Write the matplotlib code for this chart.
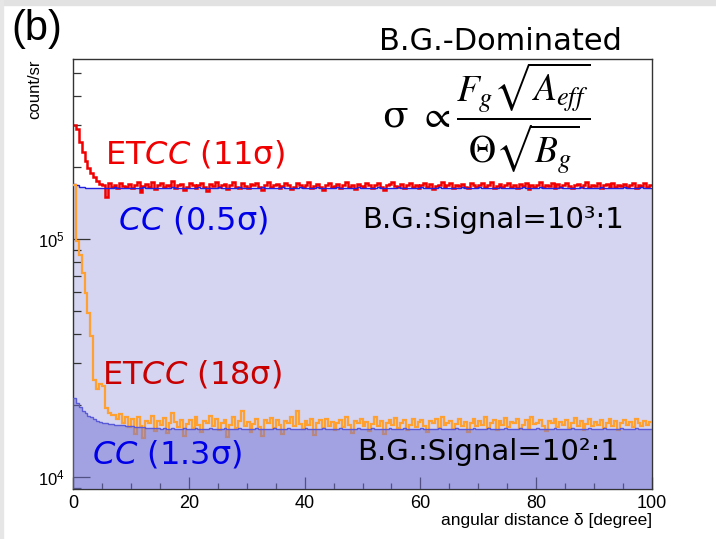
import numpy as np
import matplotlib.pyplot as plt
from matplotlib.ticker import MultipleLocator, LogLocator, NullFormatter
from matplotlib.patches import Rectangle

# bin edges: 0.5 degree bins from 0 to 100
edges = np.arange(0, 100.5, 0.5)

# counts per sr, in units of 1e3
# ETCC, B.G.:Signal = 10^3:1
etcc_hi = [300, 290, 255, 232, 212, 198, 190, 182, 175, 170,
           168, 150, 171, 166, 169, 163, 172, 167, 165, 170,
           164, 169, 173, 158, 167, 170, 166, 174, 162, 168,
           171, 165, 169, 167, 175, 163, 168, 170, 160, 166,
           172, 169, 164, 168, 171, 166, 159, 170, 167, 173,
           165, 168, 170, 162, 169, 174, 166, 164, 171, 167,
           163, 170, 168, 172, 165, 161, 169, 173, 166, 168,
           170, 164, 167, 171, 169, 162, 166, 172, 168, 165,
           169, 173, 164, 167, 170, 166, 160, 168, 171, 165,
           167, 170, 163, 169, 174, 166, 168, 162, 170, 167,
           165, 171, 168, 164, 169, 172, 166, 161, 168, 170,
           173, 167, 165, 170, 163, 168, 171, 166, 169, 164,
           168, 172, 166, 170, 162, 167, 169, 173, 165, 168,
           171, 164, 169, 167, 170, 166, 163, 172, 168, 165,
           169, 171, 166, 168, 174, 163, 167, 170, 165, 169,
           172, 166, 168, 164, 170, 167, 171, 162, 169, 166,
           168, 173, 165, 169, 167, 171, 164, 170, 166, 168,
           172, 167, 163, 169, 170, 166, 168, 173, 165, 169,
           167, 171, 164, 168, 170, 166, 172, 165, 169, 167,
           170, 166, 168, 171, 164, 169, 167, 172, 166, 168]

# CC, B.G.:Signal = 10^3:1
cc_hi = [170, 168, 166, 165, 164, 164, 163, 164, 164, 163,
         164, 163, 164, 164, 165, 163, 164, 163, 164, 164,
         163, 164, 164, 163, 165, 164, 163, 164, 164, 163,
         164, 164, 163, 164, 165, 164, 163, 164, 163, 164,
         164, 163, 164, 165, 164, 163, 164, 164, 163, 164,
         165, 164, 163, 164, 164, 163, 164, 165, 164, 163,
         164, 164, 163, 164, 164, 165, 163, 164, 164, 163,
         164, 163, 165, 164, 164, 163, 164, 164, 165, 163,
         164, 164, 163, 164, 165, 164, 163, 164, 164, 163,
         164, 165, 164, 163, 164, 164, 163, 164, 165, 164,
         163, 164, 164, 163, 164, 165, 164, 163, 164, 164,
         163, 164, 165, 164, 163, 164, 164, 163, 164, 164,
         165, 163, 164, 164, 163, 164, 165, 164, 163, 164,
         164, 163, 164, 164, 165, 163, 164, 164, 163, 164,
         165, 164, 163, 164, 164, 163, 164, 165, 164, 163,
         164, 164, 163, 164, 164, 165, 163, 164, 164, 163,
         164, 165, 164, 163, 164, 164, 163, 164, 165, 164,
         163, 164, 164, 163, 164, 165, 164, 163, 164, 164,
         163, 164, 165, 164, 163, 164, 164, 163, 164, 164,
         165, 163, 164, 164, 163, 164, 165, 164, 163, 164]

# ETCC, B.G.:Signal = 10^2:1
etcc_lo = [168, 98, 86, 72, 59, 49, 39, 25.5, 23.5, 24.5,
           24, 19.5, 18.6, 18.2, 18.2, 17.6, 18.4, 16.9, 17.8, 16.2,
           17.5, 15.1, 17.9, 16.4, 14.6, 17.2, 16.8, 18.0, 15.6, 17.1,
           16.5, 17.7, 15.3, 16.9, 18.6, 17.0, 16.2, 17.4, 14.8, 16.7,
           17.3, 16.0, 17.8, 16.6, 15.4, 17.1, 16.9, 18.1, 16.3, 17.5,
           15.8, 16.8, 17.4, 14.7, 16.5, 17.9, 16.1, 17.2, 18.9, 16.4,
           17.0, 15.5, 16.7, 17.6, 16.2, 14.9, 17.3, 16.8, 17.7, 16.0,
           17.4, 16.6, 15.2, 17.1, 16.9, 17.8, 16.3, 19.0, 16.7, 15.9,
           17.2, 16.5, 17.6, 15.0, 16.8, 17.3, 16.1, 17.5, 16.4, 17.0,
           15.7, 16.9, 17.4, 16.2, 17.8, 16.6, 15.3, 17.1, 16.8, 17.5,
           16.3, 17.0, 15.6, 16.7, 17.9, 16.4, 17.2, 15.1, 16.9, 17.3,
           16.5, 17.7, 16.0, 16.8, 17.4, 15.8, 16.6, 17.5, 16.2, 17.0,
           17.3, 16.4, 15.4, 17.1, 16.8, 17.6, 16.1, 17.9, 16.5, 16.9,
           17.2, 15.9, 16.7, 17.5, 16.3, 17.0, 15.5, 16.8, 17.6, 16.4,
           17.1, 16.6, 17.8, 16.0, 16.9, 17.4, 15.7, 17.2, 16.5, 17.7,
           16.2, 17.0, 16.8, 17.5, 15.9, 16.6, 17.3, 16.1, 17.8, 16.7,
           16.9, 17.4, 16.3, 15.6, 17.2, 16.8, 17.6, 16.2, 17.0, 16.5,
           17.3, 16.0, 16.9, 17.7, 16.4, 17.1, 15.8, 16.7, 17.5, 16.3,
           17.0, 16.6, 17.4, 16.1, 16.8, 17.6, 16.4, 17.2, 15.7, 16.9,
           17.3, 16.5, 17.0, 16.2, 17.5, 16.8, 16.4, 17.1, 16.6, 17.0]

# CC, B.G.:Signal = 10^2:1
cc_lo = [21.5, 20.4, 19.6, 19.0, 18.5, 18.1, 17.8, 17.5, 17.2, 17.0,
         16.9, 16.8, 16.75, 16.7, 16.6, 16.55, 16.5, 16.45, 16.4, 16.35,
         16.3, 16.25, 16.2, 16.2, 16.15, 16.1, 16.1, 16.05, 16.0, 16.0,
         15.95, 16.0, 15.9, 15.95, 16.0, 15.9, 15.95, 15.9, 16.0, 15.95,
         15.9, 15.95, 16.0, 15.9, 15.95, 15.9, 15.95, 16.0, 15.9, 15.95,
         15.95, 15.9, 16.0, 15.95, 15.9, 15.95, 15.9, 16.0, 15.95, 15.9,
         15.9, 15.95, 15.9, 16.0, 15.95, 15.9, 15.95, 15.9, 15.95, 16.0,
         15.95, 15.9, 15.95, 15.9, 16.0, 15.95, 15.9, 15.95, 15.9, 15.95,
         16.0, 15.9, 15.95, 15.9, 15.95, 15.9, 16.0, 15.95, 15.9, 15.95,
         15.9, 15.95, 16.0, 15.9, 15.95, 15.9, 15.95, 15.9, 16.0, 15.95,
         15.95, 15.9, 15.95, 16.0, 15.9, 15.95, 15.9, 15.95, 15.9, 16.0,
         15.9, 15.95, 15.9, 15.95, 16.0, 15.9, 15.95, 15.9, 15.95, 15.9,
         16.0, 15.95, 15.9, 15.95, 15.9, 15.95, 16.0, 15.9, 15.95, 15.9,
         15.95, 15.9, 16.0, 15.95, 15.9, 15.95, 15.9, 15.95, 16.0, 15.9,
         15.9, 15.95, 15.9, 16.0, 15.95, 15.9, 15.95, 15.9, 15.95, 16.0,
         15.95, 15.9, 15.95, 15.9, 16.0, 15.95, 15.9, 15.95, 15.9, 15.95,
         16.0, 15.9, 15.95, 15.9, 15.95, 15.9, 16.0, 15.95, 15.9, 15.95,
         15.9, 15.95, 16.0, 15.9, 15.95, 15.9, 15.95, 15.9, 16.0, 15.95,
         15.95, 15.9, 15.95, 16.0, 15.9, 15.95, 15.9, 15.95, 15.9, 16.0,
         15.9, 15.95, 15.9, 15.95, 16.0, 15.9, 15.95, 15.9, 15.95, 15.9]

etcc_hi = np.array(etcc_hi) * 1e3
cc_hi = np.array(cc_hi) * 1e3
etcc_lo = np.array(etcc_lo) * 1e3
cc_lo = np.array(cc_lo) * 1e3

W, H = 716, 539
fig = plt.figure(figsize=(W / 100, H / 100), dpi=100)


def fx(px):
    return px / W


def fy(py):
    return 1 - py / H


# grey strip of the slide edge
fig.patches.append(Rectangle((0, fy(5)), 1, 5 / H, transform=fig.transFigure,
                             color='#e2e2e2', zorder=0))
fig.patches.append(Rectangle((0, 0), 3 / W, 1, transform=fig.transFigure,
                             color='#e6e6e6', zorder=0))

ax = fig.add_axes([fx(73), 1 - 489 / H, (652 - 73) / W, (489 - 59) / H])
ax.set_yscale('log')
ax.set_xlim(0, 100)
ax.set_ylim(8900, 570000)

base = 1000
ax.stairs(cc_hi, edges, fill=True, baseline=base, color='#d5d5f2', zorder=1)
ax.stairs(cc_hi, edges, baseline=None, color='#2020e0', lw=1.0, zorder=3)
ax.stairs(etcc_hi, edges, baseline=None, color='#f00000', lw=1.8, zorder=2)
ax.stairs(etcc_lo, edges, baseline=None, color='#ffa030', lw=1.6, zorder=4)
ax.stairs(cc_lo, edges, fill=True, baseline=base, color='#7070d4', alpha=0.5,
          lw=0, zorder=5)
ax.stairs(cc_lo, edges, baseline=None, color='#5a5ad8', lw=1.0, zorder=6)

# ROOT-like frame and ticks
for s in ax.spines.values():
    s.set_linewidth(1.0)
    s.set_color('#333333')
ax.xaxis.set_major_locator(MultipleLocator(20))
ax.xaxis.set_minor_locator(MultipleLocator(5))
ax.yaxis.set_major_locator(LogLocator(base=10))
ax.yaxis.set_minor_locator(LogLocator(base=10, subs=np.arange(2, 10)))
ax.yaxis.set_minor_formatter(NullFormatter())
ax.tick_params(axis='both', which='both', direction='in', top=False, right=False,
               color='#333333', width=0.9, zorder=10)
ax.tick_params(axis='x', which='major', length=9, labelsize=13, pad=4)
ax.tick_params(axis='x', which='minor', length=4.5)
ax.tick_params(axis='y', which='major', length=12, labelsize=12, pad=6)
ax.tick_params(axis='y', which='minor', length=6)
for lab in ax.get_xticklabels() + ax.get_yticklabels():
    lab.set_family('Liberation Sans')

fig.text(fx(35), fy(60), 'count/sr', rotation=90, ha='center', va='top',
         fontsize=12, family='Liberation Sans')
fig.text(fx(652), fy(520), 'angular distance δ [degree]', ha='right', va='center',
         fontsize=12.5, family='Liberation Sans')

fig.text(fx(37), fy(29), '(b)', ha='center', va='center', fontsize=30,
         family='Liberation Sans')
fig.text(fx(500), fy(41), 'B.G.-Dominated', ha='center', va='center',
         fontsize=22, family='DejaVu Sans')
fig.text(fx(382), fy(118),
         r'σ $\propto \dfrac{F_g\sqrt{A_{eff}}}{\Theta\sqrt{B_g}}$',
         ha='left', va='center', fontsize=27, family='DejaVu Serif',
         math_fontfamily='stix')

ann = dict(family='DejaVu Sans', fontsize=23, va='center', ha='left', zorder=20)
fig.text(fx(105), fy(155), r'ET$\mathit{CC}$ (11σ)', color='#f00000', **ann)
fig.text(fx(118), fy(220), r'$\mathit{CC}$ (0.5σ)', color='#0000e8', **ann)
fig.text(fx(102), fy(374), r'ET$\mathit{CC}$ (18σ)', color='#c80000', **ann)
fig.text(fx(92), fy(455), r'$\mathit{CC}$ (1.3σ)', color='#0000e8', **ann)
sig = dict(family='DejaVu Sans', fontsize=21, va='center', ha='left', color='black')
fig.text(fx(362), fy(220), 'B.G.:Signal=10³:1', **sig)
fig.text(fx(357), fy(452), 'B.G.:Signal=10²:1', **sig)

fig.savefig('out.png', dpi=100)
